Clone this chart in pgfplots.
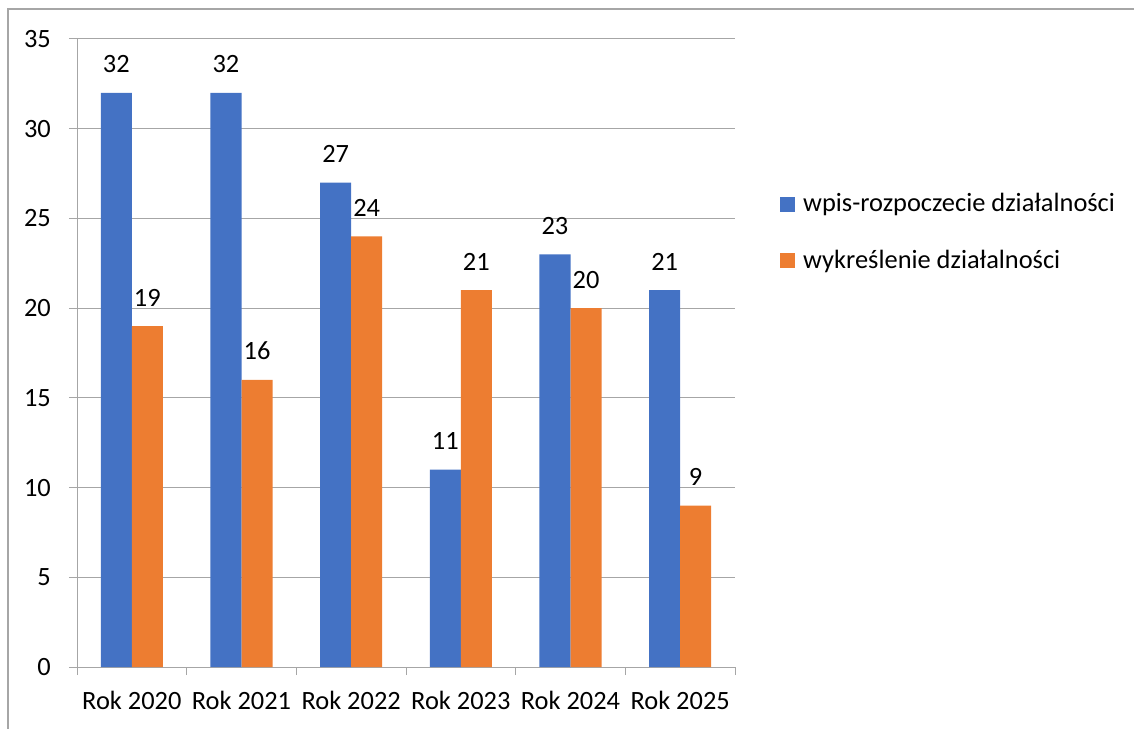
\documentclass[border=0pt]{standalone}
\usepackage{fontspec}
\setmainfont{Carlito}
\usepackage{pgfplots}
\pgfplotsset{compat=1.18}
\definecolor{wpis}{HTML}{4472C4}
\definecolor{wykr}{HTML}{ED7D31}
\definecolor{linia}{RGB}{166,166,166}
\newcommand{\duzy}{\fontsize{26.5}{31}\selectfont}
\begin{document}
\begin{tikzpicture}
\useasboundingbox (-77bp,-62bp) rectangle (1057bp,667bp);
% ramka wykresu (widoczna tylko z gory i z lewej)
\draw[linia, line width=1.5bp] (-69bp,-62bp) -- (-69bp,658bp) -- (1057bp,658bp);
\begin{axis}[
    scale only axis,
    width=658bp, height=628bp,
    ybar=0pt, bar width=0.283,
    xmin=-0.5, xmax=5.5, ymin=0, ymax=35,
    ytick={0,5,...,35},
    xtick={0,...,5},
    xticklabels={Rok 2020, Rok 2021, Rok 2022, Rok 2023, Rok 2024, Rok 2025},
    major x tick style={draw=none},
    extra x ticks={-0.5,0.5,...,5.5},
    extra x tick labels={},
    extra x tick style={major x tick style={draw=linia, line width=1bp}, grid=none},
    axis lines=left,
    axis line style={-, draw=linia, line width=1bp},
    ymajorgrids,
    grid style={linia, line width=1bp},
    tick align=outside,
    major tick length=8bp,
    major y tick style={draw=linia, line width=1bp},
    tick label style={font=\duzy, text=black},
    /pgf/number format/assume math mode=true,
    yticklabel style={anchor=east, inner sep=0pt, xshift=-18bp},
    xticklabel style={anchor=base, inner sep=0pt, yshift=-34bp},
    nodes near coords,
    every node near coord/.append style={font=\duzy, text=black, anchor=base, yshift=20bp, inner sep=0pt},
    legend style={at={(1.0684,0.6907)}, anchor=west, draw=none, fill=none, inner sep=0pt,
        font=\duzy, row sep=30.5bp,
        nodes={inner sep=0pt, text height=20bp, text depth=6bp},
        /tikz/every odd column/.style={column sep=8bp}},
    legend cell align=left,
    legend image code/.code={\fill[#1] (0bp,-7bp) rectangle (15bp,8bp);},
    clip=false,
]
\addplot[fill=wpis, draw=none] coordinates {(0,32) (1,32) (2,27) (3,11) (4,23) (5,21)};
\addplot[fill=wykr, draw=none] coordinates {(0,19) (1,16) (2,24) (3,21) (4,20) (5,9)};
\legend{wpis-rozpoczecie działalności, wykreślenie działalności}
\end{axis}
\end{tikzpicture}
\end{document}
